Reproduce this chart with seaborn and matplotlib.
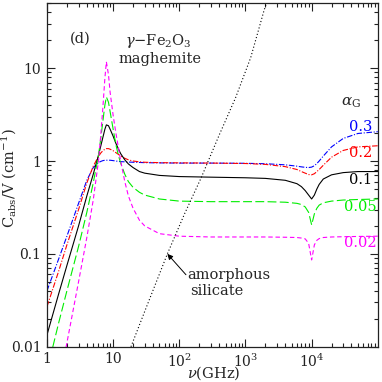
import numpy as np
import pandas as pd
import seaborn as sns
import matplotlib.pyplot as plt
from matplotlib.ticker import LogLocator, NullFormatter

# Frequency grid (GHz) shared by the five alpha_G curves
nu = [1, 1.5, 2, 3, 4, 5, 6, 6.5, 7, 7.5, 7.9, 8.5, 9, 10, 11, 12, 13, 15, 17,
      20, 25, 30, 50, 100, 300, 1000, 2000, 4000, 6000, 7000, 8000, 9000,
      10000, 11000, 12000, 13000, 15000, 20000, 30000, 50000, 100000]

c_03 = [0.040, 0.088, 0.155, 0.35, 0.62, 0.85, 0.96, 0.99, 1.01, 1.02, 1.02,
        1.02, 1.02, 1.01, 1.0, 0.99, 0.985, 0.98, 0.975, 0.97, 0.965, 0.96,
        0.955, 0.95, 0.95, 0.945, 0.935, 0.91, 0.88, 0.865, 0.855, 0.85,
        0.86, 0.89, 0.94, 1.0, 1.13, 1.42, 1.75, 1.98, 2.07]
c_02 = [0.027, 0.065, 0.125, 0.30, 0.58, 0.88, 1.12, 1.22, 1.29, 1.34, 1.36,
        1.36, 1.34, 1.29, 1.23, 1.18, 1.13, 1.07, 1.03, 1.0, 0.98, 0.97,
        0.96, 0.955, 0.95, 0.94, 0.92, 0.87, 0.81, 0.77, 0.74, 0.715,
        0.71, 0.73, 0.77, 0.81, 0.9, 1.1, 1.3, 1.42, 1.46]
c_01 = [0.0134, 0.037, 0.075, 0.2, 0.42, 0.72, 1.15, 1.45, 1.8, 2.2, 2.45,
        2.4, 2.2, 1.85, 1.55, 1.35, 1.2, 1.03, 0.93, 0.85, 0.77, 0.74,
        0.7, 0.68, 0.67, 0.66, 0.65, 0.62, 0.57, 0.53, 0.48, 0.43,
        0.39, 0.43, 0.5, 0.56, 0.64, 0.71, 0.75, 0.77, 0.77]
c_005 = [0.0055, 0.018, 0.04, 0.12, 0.28, 0.58, 1.15, 1.75, 2.7, 4.0, 4.9,
         4.3, 3.4, 2.2, 1.5, 1.15, 0.95, 0.72, 0.6, 0.52, 0.46, 0.43,
         0.39, 0.37, 0.365, 0.365, 0.365, 0.36, 0.35, 0.34, 0.32, 0.28,
         0.205, 0.27, 0.31, 0.335, 0.355, 0.37, 0.38, 0.385, 0.39]
c_002 = [0.0009, 0.0038, 0.011, 0.05, 0.15, 0.38, 1.0, 1.9, 3.8, 7.8, 11.7,
         8.5, 5.5, 3.1, 2.0, 1.4, 1.0, 0.6, 0.42, 0.31, 0.23, 0.2,
         0.165, 0.155, 0.152, 0.152, 0.152, 0.151, 0.15, 0.148, 0.145, 0.13,
         0.086, 0.125, 0.14, 0.146, 0.15, 0.152, 0.153, 0.154, 0.155]

# Amorphous silicate reference line
sil_nu = [15, 18.6, 30, 66, 120, 214, 400, 708, 1200, 1905, 2500]
sil_c = [0.0068, 0.01, 0.024, 0.1, 0.27, 0.66, 1.9, 4.8, 13, 41.7, 75]

alphas = ['0.3', '0.2', '0.1', '0.05', '0.02']
series = [c_03, c_02, c_01, c_005, c_002]
colors = ['#0000ff', '#ff0000', '#000000', '#00ee00', '#ff00ff']
styles = [(0, (5, 1.5, 1, 1.5)), (0, (5, 1.5, 1, 1.5)), '-',
          (0, (8, 3)), (0, (4, 2.5))]
label_y = [0.641, 0.563, 0.485, 0.408, 0.301]

# Set seaborn
sns.set_style('ticks')
plt.rcParams['font.family'] = ['DejaVu Serif']
plt.rcParams['mathtext.fontset'] = 'dejavuserif'

fig = plt.figure(figsize=(3.82, 3.82), dpi=100)
ax = fig.add_axes([0.123, 0.0924, 0.866, 0.899])
ax.set(xscale='log', yscale='log')

# Curves
for vals, clr, ls in zip(series, colors, styles):
    df = pd.DataFrame({'nu': nu, 'c': vals})
    sns.lineplot(data=df, x='nu', y='c', ax=ax, color=clr, lw=0.8,
                 linestyle=ls, estimator=None, sort=False)
sns.lineplot(x=sil_nu, y=sil_c, ax=ax, color='black', lw=0.8,
             linestyle=(0, (1, 2)), estimator=None, sort=False)

ax.set_xlim(1, 1e5)
ax.set_ylim(0.01, 50)

# Ticks
ax.set_xticks([1, 10, 100, 1000, 10000],
              labels=['1', '10', '$10^2$', '$10^3$', '$10^4$'])
ax.set_yticks([0.01, 0.1, 1, 10], labels=['0.01', '0.1', '1', '10'])
ax.xaxis.set_minor_locator(LogLocator(base=10, subs=np.arange(2, 10), numticks=20))
ax.yaxis.set_minor_locator(LogLocator(base=10, subs=np.arange(2, 10), numticks=20))
ax.xaxis.set_minor_formatter(NullFormatter())
ax.yaxis.set_minor_formatter(NullFormatter())
ax.tick_params(which='both', direction='in', top=True, right=True,
               labelsize=10, width=0.8, colors='#222222')
ax.tick_params(which='major', length=6, pad=4)
ax.tick_params(which='minor', length=3)
for sp in ax.spines.values():
    sp.set_linewidth(0.9)
    sp.set_color('#222222')

ax.set_xlabel(r'$\nu$(GHz)', fontsize=10.5)
ax.xaxis.set_label_coords(0.503, -0.052)
ax.set_ylabel(r'C$_{\rm abs}$/V (cm$^{-1}$)', fontsize=10.5)
ax.yaxis.set_label_coords(-0.085, 0.49)

# Annotations
ax.text(0.10, 0.896, '(d)', transform=ax.transAxes, fontsize=10.5,
        ha='center', va='center')
ax.text(0.336, 0.89, r'$\gamma$$-$Fe$_2$O$_3$', transform=ax.transAxes,
        fontsize=10.5, ha='center', va='center')
ax.text(0.342, 0.839, 'maghemite', transform=ax.transAxes, fontsize=10.5,
        ha='center', va='center')
ax.text(0.918, 0.71, r'$\alpha_{\rm G}$', transform=ax.transAxes,
        fontsize=11, ha='center', va='center')
for lab, clr, yy in zip(alphas, colors, label_y):
    ax.text(0.947, yy, lab, transform=ax.transAxes, fontsize=10.5,
            color=clr, ha='center', va='center')

ax.annotate('', xy=(66, 0.1), xytext=(126, 0.0596),
            arrowprops=dict(arrowstyle='-|>', lw=0.7, color='black',
                            mutation_scale=8, shrinkA=0, shrinkB=0))
ax.text(0.423, 0.209, 'amorphous', transform=ax.transAxes, fontsize=10.5,
        ha='left', va='center')
ax.text(0.432, 0.163, 'silicate', transform=ax.transAxes, fontsize=10.5,
        ha='left', va='center')

# Save
fig.savefig('out.png', dpi=100)
plt.close(fig)
